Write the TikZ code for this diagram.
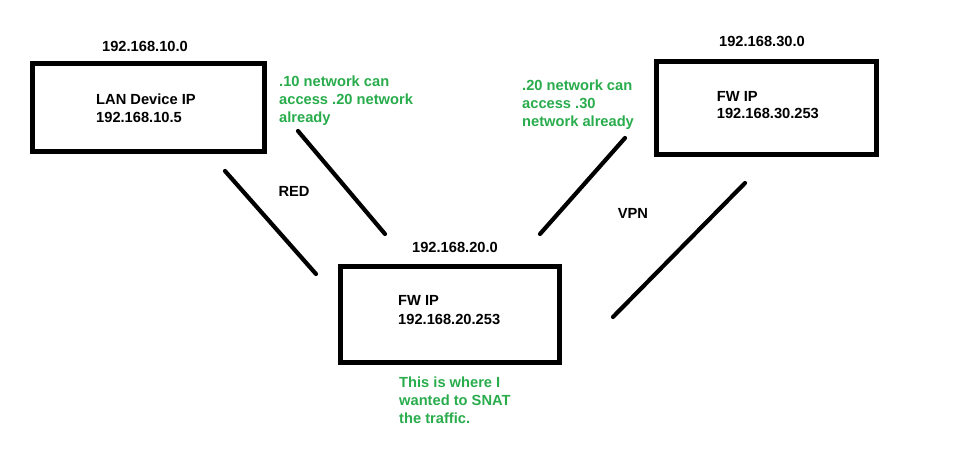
\documentclass[tikz,border=0pt]{standalone}
\usepackage{fontspec}
\setmainfont{Liberation Sans}
\definecolor{notegreen}{RGB}{40,172,76}
\begin{document}
\begin{tikzpicture}[x=1pt,y=-1pt,
  box/.style={draw=black,line width=5pt,inner sep=0pt},
  link/.style={draw=black,line width=4.2pt,line cap=round},
  lbl/.style={font=\fontsize{14.67}{18.4}\selectfont\bfseries,inner sep=0pt,align=left},
  note/.style={lbl,text=notegreen}]
\useasboundingbox[fill=white] (0,0) rectangle (963,463);
% boxes
\node[box,minimum width=232pt,minimum height=87.5pt] (lan) at (148,107.25) {};
\node[box,minimum width=219pt,minimum height=96.5pt] (fw20) at (449.5,314.25) {};
\node[box,minimum width=220pt,minimum height=93pt] (fw30) at (766,107.5) {};
% network labels
\node[lbl,anchor=base] (n10) at (145,51) {192.168.10.0};
\node[lbl,anchor=base] (n20) at (455,252.7) {192.168.20.0};
\node[lbl,anchor=base] (n30) at (762,46.7) {192.168.30.0};
% box texts
\node[lbl,anchor=base west] (t10a) at (96,104.5) {LAN Device IP};
\node[lbl,anchor=base west] (t10b) at (96,122.5) {192.168.10.5};
\node[lbl,anchor=base west] (t20a) at (398,305.3) {FW IP};
\node[lbl,anchor=base west] (t20b) at (398,324) {192.168.20.253};
\node[lbl,anchor=base west] (t30a) at (716.7,101) {FW IP};
\node[lbl,anchor=base west] (t30b) at (716.7,118.3) {192.168.30.253};
% green notes
\node[note,anchor=base west] (g1a) at (279,86) {.10 network can};
\node[note,anchor=base west] (g1b) at (279,104) {access .20 network};
\node[note,anchor=base west] (g1c) at (279,122) {already};
\node[note,anchor=base west] (g2a) at (522,90) {.20 network can};
\node[note,anchor=base west] (g2b) at (522,108) {access .30};
\node[note,anchor=base west] (g2c) at (522,126) {network already};
\node[note,anchor=base west] (g3a) at (399,387.3) {This is where I};
\node[note,anchor=base west] (g3b) at (399,405.7) {wanted to SNAT};
\node[note,anchor=base west] (g3c) at (399,423.3) {the traffic.};
% link labels
\node[lbl] (red) at (294,191) {RED};
\node[lbl] (vpn) at (633,213) {VPN};
% connector end points
\coordinate (a1) at (225,171);
\coordinate (a2) at (316,274);
\coordinate (b1) at (298,131);
\coordinate (b2) at (385,234);
\coordinate (c1) at (625,138);
\coordinate (c2) at (540,234);
\coordinate (d1) at (745,183);
\coordinate (d2) at (613,317);
\draw[link] (a1) -- (a2);
\draw[link] (b1) -- (b2);
\draw[link] (c1) -- (c2);
\draw[link] (d1) -- (d2);
\end{tikzpicture}
\end{document}
